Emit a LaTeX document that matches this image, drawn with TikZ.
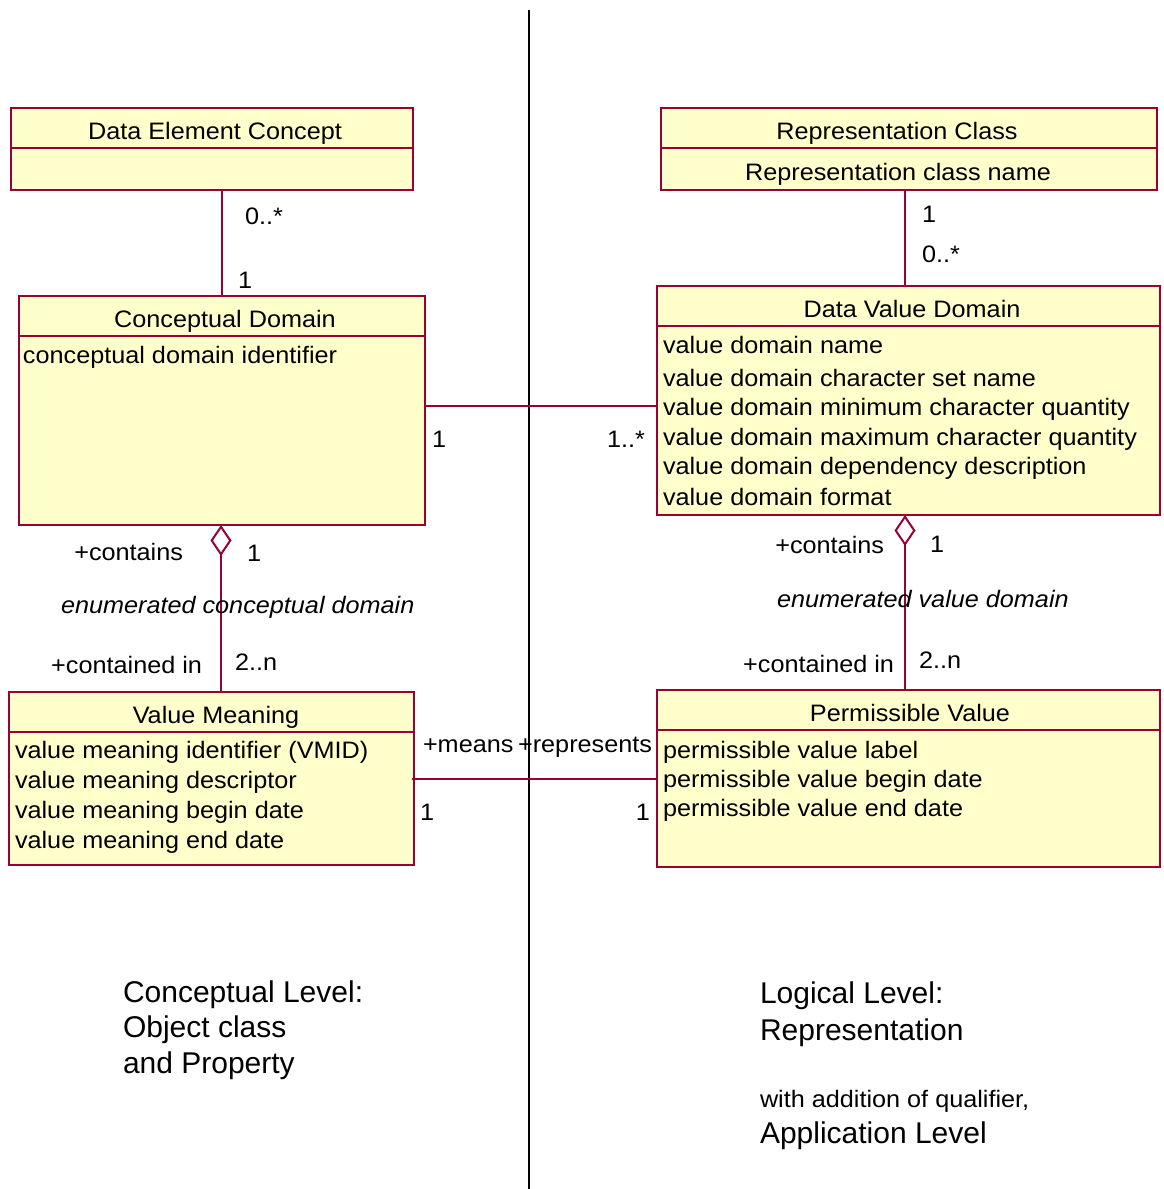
\documentclass[tikz,border=0pt]{standalone}
\usepackage{fontspec}
\setmainfont{Liberation Sans}
\newfontfamily\boxfont{Liberation Sans}[FakeStretch=1.06]
\usetikzlibrary{arrows.meta}
\definecolor{umlred}{HTML}{990033}
\definecolor{umlfill}{HTML}{FFFFCC}
\begin{document}
\begin{tikzpicture}[x=1pt,y=-1pt,
  umlline/.style={draw=umlred, line width=2pt},
  cls/.style={draw=umlred, fill=umlfill, line width=2pt, anchor=north west, inner sep=0pt, outer sep=0pt},
  txt/.style={inner sep=0pt, outer sep=0pt, font=\boxfont\fontsize{23.8}{28}\selectfont},
  ttl/.style={txt, anchor=base},
  lw/.style={txt, anchor=base west},
  le/.style={txt, anchor=base east},
  itl/.style={txt, anchor=base west, font=\boxfont\itshape\fontsize{23.8}{28}\selectfont},
  big/.style={inner sep=0pt, outer sep=0pt, anchor=base west, font=\fontsize{30}{36}\selectfont},
  agg/.style={umlline, {Diamond[open,length=31pt,width=21pt,line width=2pt]}-}
]
\fill[white] (0,0) rectangle (1163,1189);
\useasboundingbox (0,0) rectangle (1163,1189);

% separator
\coordinate (sepT) at (528.5,10);
\coordinate (sepB) at (528.5,1189);
\draw[line width=2pt, black] (sepT) -- (sepB);

% classes
\node[cls, minimum width=402pt, minimum height=82pt] (dec) at (11,108) {};
\node[cls, minimum width=496pt, minimum height=82pt] (rc) at (661,108) {};
\node[cls, minimum width=406pt, minimum height=229pt] (cd) at (19,296) {};
\node[cls, minimum width=503pt, minimum height=229pt] (dvd) at (657,286) {};
\node[cls, minimum width=405pt, minimum height=173pt] (vm) at (9,692) {};
\node[cls, minimum width=503pt, minimum height=177pt] (pv) at (657,690) {};

% dividers
\draw[umlline] (dec.west |- 0,148) -- (dec.east |- 0,148);
\draw[umlline] (rc.west |- 0,148) -- (rc.east |- 0,148);
\draw[umlline] (cd.west |- 0,336) -- (cd.east |- 0,336);
\draw[umlline] (dvd.west |- 0,326) -- (dvd.east |- 0,326);
\draw[umlline] (vm.west |- 0,732) -- (vm.east |- 0,732);
\draw[umlline] (pv.west |- 0,730) -- (pv.east |- 0,730);

% class titles and attributes
\node[ttl] (decT) at (215,139) {Data Element Concept};
\node[ttl] (rcT) at (897,139) {Representation Class};
\node[ttl] (rcA) at (898,180) {Representation class name};
\node[ttl] (cdT) at (225,327) {Conceptual Domain};
\node[lw] (cdA) at (23,363) {conceptual domain identifier};
\node[ttl] (dvdT) at (912,317) {Data Value Domain};
\node[lw] (dvdA1) at (663,353) {value domain name};
\node[lw] (dvdA2) at (663,386) {value domain character set name};
\node[lw] (dvdA3) at (663,415) {value domain minimum character quantity};
\node[lw] (dvdA4) at (663,445) {value domain maximum character quantity};
\node[lw] (dvdA5) at (663,474) {value domain dependency description};
\node[lw] (dvdA6) at (663,505) {value domain format};
\node[ttl] (vmT) at (216,723) {Value Meaning};
\node[lw] (vmA1) at (15,758) {value meaning identifier (VMID)};
\node[lw] (vmA2) at (15,788) {value meaning descriptor};
\node[lw] (vmA3) at (15,818) {value meaning begin date};
\node[lw] (vmA4) at (15,848) {value meaning end date};
\node[ttl] (pvT) at (910,721) {Permissible Value};
\node[lw] (pvA1) at (663,758) {permissible value label};
\node[lw] (pvA2) at (663,787) {permissible value begin date};
\node[lw] (pvA3) at (663,816) {permissible value end date};

% connectors
\draw[umlline] (dec.south -| cd.north) -- (cd.north);
\draw[umlline] ([xshift=-4pt]rc.south) -- ([xshift=-4pt]rc.south |- dvd.north);
\draw[umlline] ([yshift=4.5pt]cd.east) -- ([yshift=4.5pt]cd.east -| dvd.west);
\draw[agg] ([xshift=-1pt]cd.south) -- ([xshift=-1pt]cd.south |- vm.north);
\draw[agg] ([xshift=-3.5pt]dvd.south) -- ([xshift=-3.5pt]dvd.south |- pv.north);
\draw[umlline] ([xshift=-2pt]vm.east) -- (vm.east -| pv.west);

% connector labels
\node[lw] (l1) at (245,224) {0..*};
\node[lw] (l2) at (238,288) {1};
\node[lw] (l3) at (922,222) {1};
\node[lw] (l4) at (922,262) {0..*};
\node[lw] (l5) at (432,447) {1};
\node[le] (l6) at (645,447) {1..*};
\node[le] (l7) at (183,560) {+contains};
\node[lw] (l8) at (247,561) {1};
\node[itl] (l9) at (61,613) {enumerated conceptual domain};
\node[le] (l10) at (202,673) {+contained in};
\node[lw] (l11) at (235,670) {2..n};
\node[le] (l12) at (884,553) {+contains};
\node[lw] (l13) at (930,552) {1};
\node[itl] (l14) at (777,607) {enumerated value domain};
\node[le] (l15) at (894,672) {+contained in};
\node[lw] (l16) at (919,668) {2..n};
\node[lw] (l17) at (423,752) {+means};
\node[le] (l18) at (652,752) {+represents};
\node[lw] (l19) at (420,820) {1};
\node[le] (l20) at (650,820) {1};

% level captions
\node[big] (c1) at (123,1002) {Conceptual Level:};
\node[big] (c2) at (123,1037) {Object class};
\node[big] (c3) at (123,1073) {and Property};
\node[big] (c4) at (760,1003) {Logical Level:};
\node[big] (c5) at (760,1040) {Representation};
\node[lw] (c6) at (760,1107) {with addition of qualifier,};
\node[big] (c7) at (760,1143) {Application Level};
\end{tikzpicture}
\end{document}
